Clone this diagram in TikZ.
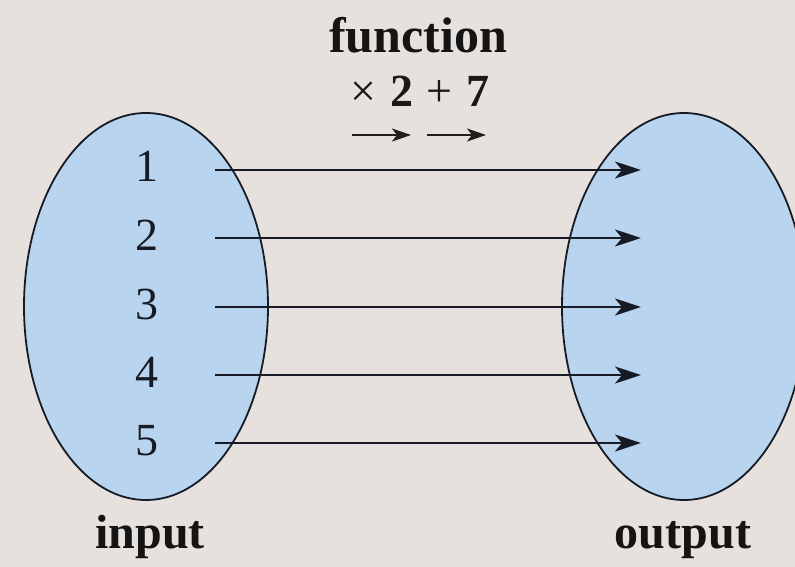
\documentclass[tikz,border=0pt]{standalone}
\usepackage{fontspec}
\setmainfont{Liberation Serif}
\usetikzlibrary{arrows.meta,shapes.geometric}
\definecolor{bg}{HTML}{E6E1DD}
\definecolor{setfill}{HTML}{B9D4EE}
\definecolor{ink}{HTML}{161B26}
\tikzset{
  setshape/.style={ellipse,draw=ink,line width=1.8pt,fill=setfill,minimum width=244pt,minimum height=387pt,inner sep=0pt},
  num/.style={text=ink,font=\fontsize{46}{50}\selectfont,inner sep=0pt,anchor=base},
  lbl/.style={text=black!92,font=\fontsize{48}{52}\selectfont\bfseries,inner sep=0pt,anchor=base},
  maparrow/.style={draw=ink,line width=2.4pt,-{Stealth[length=26pt,width=17pt,inset=7pt]}},
  smallarrow/.style={draw=black!88,line width=2.4pt,-{Stealth[length=19pt,width=13pt,inset=5pt]}}
}
\begin{document}
\begin{tikzpicture}[x=1pt,y=-1pt]
\useasboundingbox (0,0) rectangle (795,567);
\fill[bg] (0,0) rectangle (795,567);
\node[setshape] (in) at (146,306.5) {};
\node[setshape] (out) at (684,306.5) {};
\foreach \i/\y in {1/170,2/238,3/307,4/375,5/443}{
  \node[num] (n\i) at (147,\y+12) {\i};
  \coordinate (s\i) at (215,\y);
  \coordinate (t\i) at (641,\y);
  \draw[maparrow] (s\i) -- (t\i);
}
\node[lbl] (inlbl) at (150,548) {input};
\node[lbl] (outlbl) at (683,548) {output};
\node[lbl,font=\fontsize{50}{54}\selectfont\bfseries] (fn) at (418,53) {function};
\node[text=black!90,font=\fontsize{46}{50}\selectfont,inner sep=0pt,anchor=base] (op) at (420,107) {×\hspace{0.3em}\textbf{2}\hspace{0.3em}+\hspace{0.3em}\textbf{7}};
\coordinate (a1) at (352,135);
\coordinate (a2) at (411,135);
\coordinate (b1) at (427,135);
\coordinate (b2) at (486,135);
\draw[smallarrow] (a1) -- (a2);
\draw[smallarrow] (b1) -- (b2);
\end{tikzpicture}
\end{document}
